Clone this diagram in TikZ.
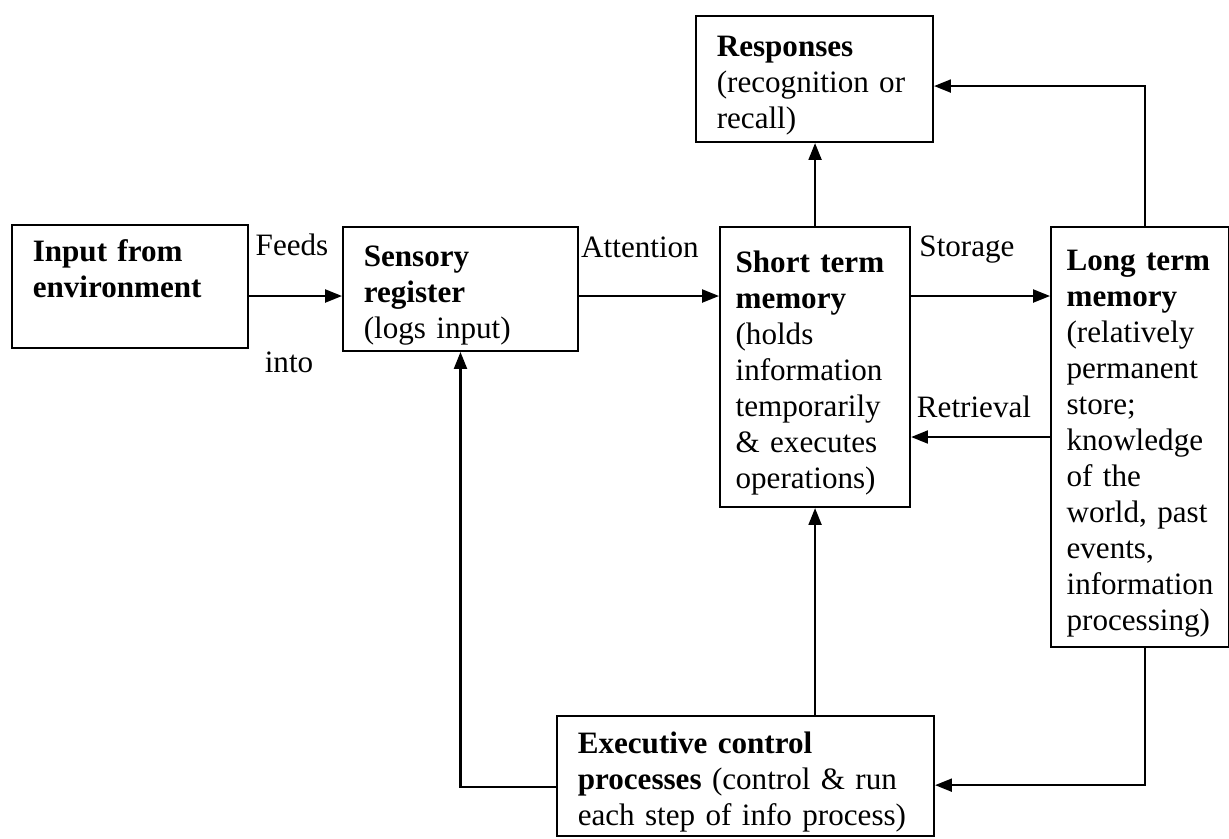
\documentclass[tikz,border=0pt]{standalone}
\usepackage{fontspec}
\setmainfont{Liberation Serif}
\usetikzlibrary{arrows.meta}

\newcommand{\firstline}{\rule{0pt}{13pt}}

\tikzset{
  stage/.style={draw, line width=0.8pt, anchor=north west, align=left,
    inner xsep=8pt, inner ysep=0pt, font=\fontsize{12}{13.9}\selectfont},
  flow/.style={line width=0.8pt, -{Triangle[length=6.5pt,width=5pt]}},
  tag/.style={inner sep=0pt, font=\fontsize{12}{13.9}\selectfont}
}

\begin{document}
\begin{tikzpicture}[x=0.3857pt, y=-0.3857pt]
\useasboundingbox (0,0) rectangle (1229,838);
% stages
\node[stage, minimum width=91pt, minimum height=47.4pt, text width=75pt] (inp) at (11,224)
  {\textbf{Input from}\\ \textbf{environment}\\ \mbox{}};
\node[stage, minimum width=90.6pt, minimum height=47.8pt, text width=74.6pt] (sens) at (342,226)
  {\firstline\textbf{Sensory}\\ \textbf{register}\\ (logs input)};
\node[stage, inner xsep=6pt, minimum width=73.3pt, minimum height=108pt, text width=61.3pt] (stm) at (719,226)
  {\firstline\textbf{Short term}\\ \textbf{memory}\\ (holds\\ information\\ temporarily\\ \& executes\\ operations)};
\node[stage, minimum width=91.4pt, minimum height=48.6pt, text width=75.4pt] (resp) at (695,15)
  {\firstline\textbf{Responses}\\ (recognition or\\ recall)};
\node[stage, inner xsep=6pt, minimum width=68.5pt, minimum height=162pt, text width=56.5pt] (ltm) at (1050,226)
  {\firstline\textbf{Long term}\\ \textbf{memory}\\ (relatively\\ permanent\\ store;\\ knowledge\\ of the\\ world, past\\ events,\\ information\\ processing)};
\node[stage, minimum width=145.4pt, minimum height=46.3pt, text width=129.4pt] (exec) at (556,715)
  {\firstline\textbf{Executive control}\\ \textbf{processes} (control \& run\\ each step of info process)};

% levels of the horizontal connectors
\coordinate (lvl) at (0,296);
\coordinate (back) at (0,437);

% connectors
\draw[flow] (inp.east |- lvl) -- (sens.west |- lvl);
\draw[flow] (sens.east |- lvl) -- (stm.west |- lvl);
\draw[flow] (stm.east |- lvl) -- (ltm.west |- lvl);
\draw[flow] (ltm.west |- back) -- (stm.east |- back);
\draw[flow] (stm.north) -- (stm.north |- resp.south);
\draw[flow] ([xshift=2pt]ltm.north) |- ([yshift=-2.7pt]resp.east);
\draw[flow] ([xshift=2pt]ltm.south) |- ([yshift=-3.5pt]exec.east);
\draw[flow] (stm.south |- exec.north) -- (stm.south);
\draw[flow] ([yshift=-4.2pt]exec.west) -| (sens.south);

% labels
\node[tag] (feeds) at (292,245) {Feeds};
\node[tag] (into) at (289,362) {into};
\node[tag] (attn) at (640,247) {Attention};
\node[tag] (stor) at (967,250) {Storage};
\node[tag] (retr) at (974,407) {Retrieval};
\end{tikzpicture}
\end{document}
